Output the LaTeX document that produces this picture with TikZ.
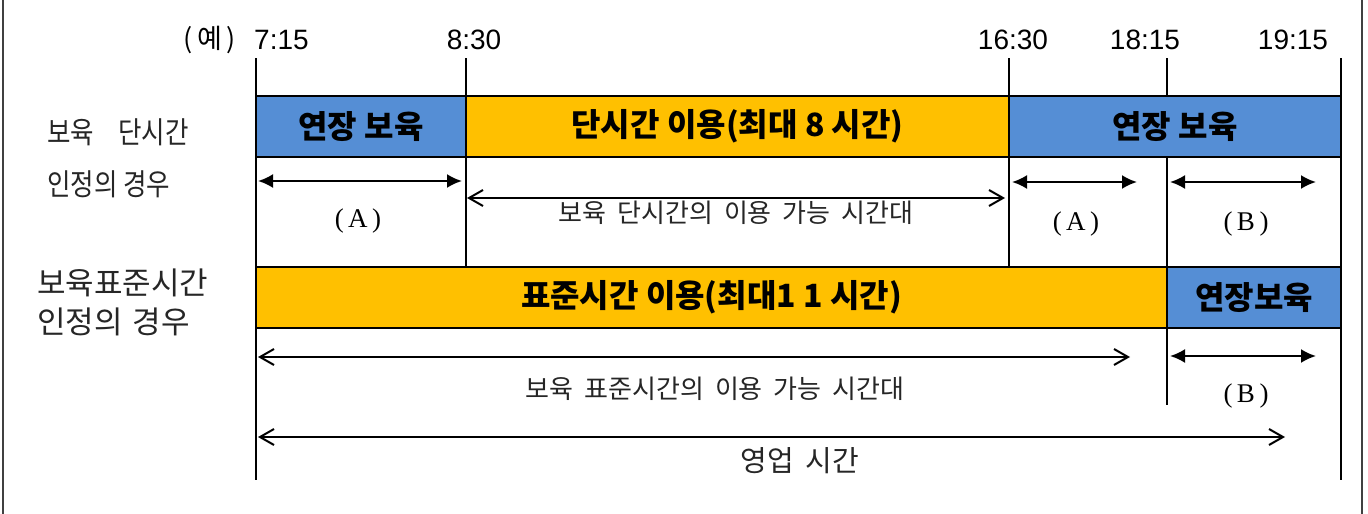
\documentclass[tikz,border=0pt]{standalone}
\usepackage{fontspec}
\setmainfont{Liberation Serif}
\newfontfamily\kr{Noto Sans CJK KR}
\newfontfamily\krn[FakeStretch=0.85]{Noto Sans CJK KR}
\newfontfamily\tm{Liberation Sans}
\usetikzlibrary{arrows.meta}
\definecolor{cblue}{RGB}{85,142,213}
\definecolor{corange}{RGB}{255,192,0}
\newcommand{\sgap}{\hspace{11pt}}
\begin{document}
\begin{tikzpicture}[x=1pt,y=-1pt,
  bar/.style={draw=black, line width=2.5pt, inner sep=0pt, minimum height=61pt,
    font=\kr\bfseries\fontsize{32}{34}\selectfont},
  vline/.style={line width=2pt},
  border/.style={line width=2pt, draw=black!75},
  dimA/.style={line width=2.2pt, {Latex[length=15pt,width=14pt]}-{Latex[length=15pt,width=14pt]}},
  dimO/.style={line width=2pt, {Straight Barb[length=14pt,width=16pt]}-{Straight Barb[length=14pt,width=16pt]}},
  timelbl/.style={inner sep=0pt, font=\tm\fontsize{28}{30}\selectfont},
  sidelbl/.style={inner sep=0pt, anchor=west, text=black!85},
  smalllbl/.style={inner sep=0pt, text=black!85, font=\kr\fontsize{26}{28}\selectfont},
  letterlbl/.style={inner sep=0pt, font=\fontsize{27}{29}\selectfont},
]
\useasboundingbox (0,0) rectangle (1368,514);
\fill[white] (0,0) rectangle (1368,514);

% frame sides
\coordinate (fl1) at (3,0); \coordinate (fl2) at (3,514);
\coordinate (fr1) at (1362,0); \coordinate (fr2) at (1362,514);
\draw[border] (fl1) -- (fl2);
\draw[border] (fr1) -- (fr2);

% time axis lines
\coordinate (t1a) at (256,58); \coordinate (t1b) at (256,480);
\coordinate (t2a) at (466,58); \coordinate (t2b) at (466,267);
\coordinate (t3a) at (1009,58); \coordinate (t3b) at (1009,267);
\coordinate (t4a) at (1167,58); \coordinate (t4b) at (1167,405);
\coordinate (t5a) at (1341,58); \coordinate (t5b) at (1341,480);
\draw[vline] (t1a) -- (t1b);
\draw[vline] (t2a) -- (t2b);
\draw[vline] (t3a) -- (t3b);
\draw[vline] (t4a) -- (t4b);
\draw[vline] (t5a) -- (t5b);

% time labels
\node[timelbl, anchor=east, font=\kr\fontsize{27}{29}\selectfont] (ex) at (236,40) {(\,예\,)};
\node[timelbl, anchor=west] (h715) at (254,40) {7:15};
\node[timelbl] (h830) at (474,40) {8:30};
\node[timelbl] (h1630) at (1013,40) {16:30};
\node[timelbl] (h1815) at (1145,40) {18:15};
\node[timelbl] (h1915) at (1293,40) {19:15};

% bars row 1
\node[bar, fill=cblue, minimum width=210pt] (b1) at (361,126.5) {연장 보육};
\node[bar, fill=corange, minimum width=543pt] (b2) at (737.5,126.5) {단시간 이용(최대 8 시간)};
\node[bar, fill=cblue, minimum width=332pt] (b3) at (1175,126.5) {연장 보육};

% bars row 2
\node[bar, fill=corange, minimum width=911pt] (c1) at (711.5,297.5) {표준시간 이용(최대1 1 시간)};
\node[bar, fill=cblue, minimum width=174pt] (c2) at (1254,297.5) {연장보육};

% side labels
\node[sidelbl, font=\krn\fontsize{30}{32}\selectfont] (s1a) at (47,132) {보육\hspace{24pt}단시간};
\node[sidelbl, font=\krn\fontsize{30}{32}\selectfont] (s1b) at (47,184) {인정의 경우};
\node[sidelbl, font=\kr\fontsize{31}{33}\selectfont] (s2a) at (37,283) {보육표준시간};
\node[sidelbl, font=\kr\fontsize{31}{33}\selectfont] (s2b) at (37,322) {인정의\hspace{10pt}경우};

% row 1 arrows
\coordinate (a1l) at (258,181); \coordinate (a1r) at (462,181);
\draw[dimA] (a1l) -- (a1r);
\coordinate (o1l) at (467,198); \coordinate (o1r) at (1005,198);
\draw[dimO] (o1l) -- (o1r);
\coordinate (a2l) at (1012,182); \coordinate (a2r) at (1137,182);
\draw[dimA] (a2l) -- (a2r);
\coordinate (a3l) at (1170,182); \coordinate (a3r) at (1316,182);
\draw[dimA] (a3l) -- (a3r);

\node[letterlbl] (A1) at (358,221) {(\,A\,)};
\node[smalllbl] (u1) at (736,213) {보육\sgap 단시간의\sgap 이용\sgap 가능\sgap 시간대};
\node[letterlbl] (A2) at (1076,224) {(\,A\,)};
\node[letterlbl] (B1) at (1246,224) {(\,B\,)};

% row 2 arrows
\coordinate (o2l) at (258,357); \coordinate (o2r) at (1130,357);
\draw[dimO] (o2l) -- (o2r);
\coordinate (a4l) at (1170,356); \coordinate (a4r) at (1316,356);
\draw[dimA] (a4l) -- (a4r);
\node[smalllbl] (u2) at (715,389) {보육\sgap 표준시간의\sgap 이용\sgap 가능\sgap 시간대};
\node[letterlbl] (B2) at (1246,396) {(\,B\,)};

% business hours
\coordinate (o3l) at (258,437); \coordinate (o3r) at (1285,437);
\draw[dimO] (o3l) -- (o3r);
\node[smalllbl, font=\kr\fontsize{29}{31}\selectfont] (biz) at (800,461) {영업\hspace{12pt}시간};
\end{tikzpicture}
\end{document}
